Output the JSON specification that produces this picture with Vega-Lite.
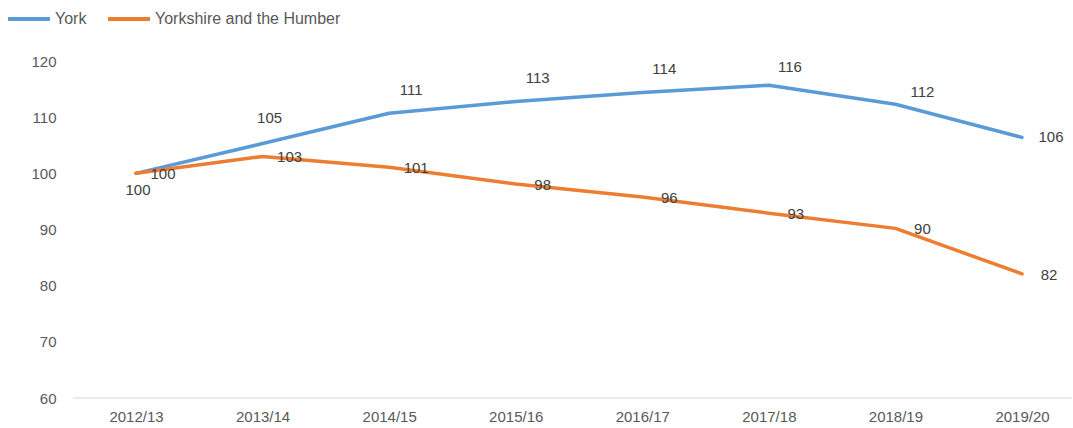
{
  "$schema": "https://vega.github.io/schema/vega-lite/v6.json",
  "width": 999,
  "height": 337,
  "autosize": "none",
  "padding": {"left": 73, "top": 61, "right": 1, "bottom": 30},
  "config": {
    "view": {"stroke": null},
    "font": "Liberation Sans",
    "axisX": {"domain": false, "ticks": false, "grid": false, "labelColor": "#595959", "labelFontSize": 15, "labelPadding": 11, "labelAngle": 0, "title": null},
    "axisY": {"domain": false, "ticks": false, "grid": false, "labelColor": "#595959", "labelFontSize": 15, "labelPadding": 17, "title": null},
    "legend": {"orient": "none", "legendX": -67, "legendY": -65, "direction": "horizontal", "symbolType": "stroke", "symbolSize": 1764, "symbolStrokeWidth": 4, "labelFontSize": 16, "labelColor": "#595959", "labelOffset": 3, "labelLimit": 400, "columnPadding": 13, "title": null}
  },
  "data": {
    "values": [
      {"year": "2012/13", "series": "York", "value": 100.0},
      {"year": "2013/14", "series": "York", "value": 105.3},
      {"year": "2014/15", "series": "York", "value": 110.7},
      {"year": "2015/16", "series": "York", "value": 112.8},
      {"year": "2016/17", "series": "York", "value": 114.4},
      {"year": "2017/18", "series": "York", "value": 115.7},
      {"year": "2018/19", "series": "York", "value": 112.3},
      {"year": "2019/20", "series": "York", "value": 106.4},
      {"year": "2012/13", "series": "Yorkshire and the Humber", "value": 100.0},
      {"year": "2013/14", "series": "Yorkshire and the Humber", "value": 103.0},
      {"year": "2014/15", "series": "Yorkshire and the Humber", "value": 101.1},
      {"year": "2015/16", "series": "Yorkshire and the Humber", "value": 98.1},
      {"year": "2016/17", "series": "Yorkshire and the Humber", "value": 95.8},
      {"year": "2017/18", "series": "Yorkshire and the Humber", "value": 92.9},
      {"year": "2018/19", "series": "Yorkshire and the Humber", "value": 90.2},
      {"year": "2019/20", "series": "Yorkshire and the Humber", "value": 82.1}
    ]
  },
  "layer": [
    {
      "data": {"values": [{"base": 60}]},
      "mark": {"type": "rule", "color": "#d9d9d9", "strokeWidth": 1},
      "encoding": {"y": {"field": "base", "type": "quantitative", "title": null, "scale": {"domain": [60, 120], "zero": false}, "axis": {"values": [60, 70, 80, 90, 100, 110, 120]}}}
    },
    {
      "mark": {"type": "line", "strokeWidth": 3.5, "strokeCap": "round", "strokeJoin": "round"},
      "encoding": {
        "x": {"field": "year", "type": "ordinal", "sort": null, "title": null, "scale": {"type": "point", "range": [63, 949], "padding": 0}},
        "y": {"field": "value", "type": "quantitative", "title": null, "scale": {"domain": [60, 120], "zero": false}, "axis": {"values": [60, 70, 80, 90, 100, 110, 120]}},
        "color": {"field": "series", "type": "nominal", "sort": null, "scale": {"domain": ["York", "Yorkshire and the Humber"], "range": ["#5B9BD5", "#ED7D31"]}}
      }
    },
    {
      "transform": [{"filter": "datum.series == 'York' && datum.year == '2012/13'"}],
      "mark": {"type": "text", "fontSize": 15, "color": "#404040", "align": "center", "baseline": "middle", "dx": 2, "dy": 17},
      "encoding": {
        "x": {"field": "year", "type": "ordinal", "sort": null},
        "y": {"field": "value", "type": "quantitative"},
        "text": {"field": "value", "type": "quantitative", "format": ".0f"}
      }
    },
    {
      "transform": [{"filter": "datum.series == 'York' && datum.year == '2013/14'"}],
      "mark": {"type": "text", "fontSize": 15, "color": "#404040", "align": "center", "baseline": "middle", "dx": 7, "dy": -26},
      "encoding": {
        "x": {"field": "year", "type": "ordinal", "sort": null},
        "y": {"field": "value", "type": "quantitative"},
        "text": {"field": "value", "type": "quantitative", "format": ".0f"}
      }
    },
    {
      "transform": [{"filter": "datum.series == 'York' && indexof(['2014/15','2015/16','2016/17'], datum.year) >= 0"}],
      "mark": {"type": "text", "fontSize": 15, "color": "#404040", "align": "center", "baseline": "middle", "dx": 22, "dy": -23},
      "encoding": {
        "x": {"field": "year", "type": "ordinal", "sort": null},
        "y": {"field": "value", "type": "quantitative"},
        "text": {"field": "value", "type": "quantitative", "format": ".0f"}
      }
    },
    {
      "transform": [{"filter": "datum.series == 'York' && datum.year == '2017/18'"}],
      "mark": {"type": "text", "fontSize": 15, "color": "#404040", "align": "center", "baseline": "middle", "dx": 21, "dy": -18},
      "encoding": {
        "x": {"field": "year", "type": "ordinal", "sort": null},
        "y": {"field": "value", "type": "quantitative"},
        "text": {"field": "value", "type": "quantitative", "format": ".0f"}
      }
    },
    {
      "transform": [{"filter": "datum.series == 'York' && datum.year == '2018/19'"}],
      "mark": {"type": "text", "fontSize": 15, "color": "#404040", "align": "center", "baseline": "middle", "dx": 27, "dy": -12},
      "encoding": {
        "x": {"field": "year", "type": "ordinal", "sort": null},
        "y": {"field": "value", "type": "quantitative"},
        "text": {"field": "value", "type": "quantitative", "format": ".0f"}
      }
    },
    {
      "transform": [{"filter": "datum.series == 'York' && datum.year == '2019/20'"}],
      "mark": {"type": "text", "fontSize": 15, "color": "#404040", "align": "center", "baseline": "middle", "dx": 29, "dy": 0},
      "encoding": {
        "x": {"field": "year", "type": "ordinal", "sort": null},
        "y": {"field": "value", "type": "quantitative"},
        "text": {"field": "value", "type": "quantitative", "format": ".0f"}
      }
    },
    {
      "transform": [{"filter": "datum.series == 'Yorkshire and the Humber'"}],
      "mark": {"type": "text", "fontSize": 15, "color": "#404040", "align": "center", "baseline": "middle", "dx": 27, "dy": 1},
      "encoding": {
        "x": {"field": "year", "type": "ordinal", "sort": null},
        "y": {"field": "value", "type": "quantitative"},
        "text": {"field": "value", "type": "quantitative", "format": ".0f"}
      }
    }
  ]
}
